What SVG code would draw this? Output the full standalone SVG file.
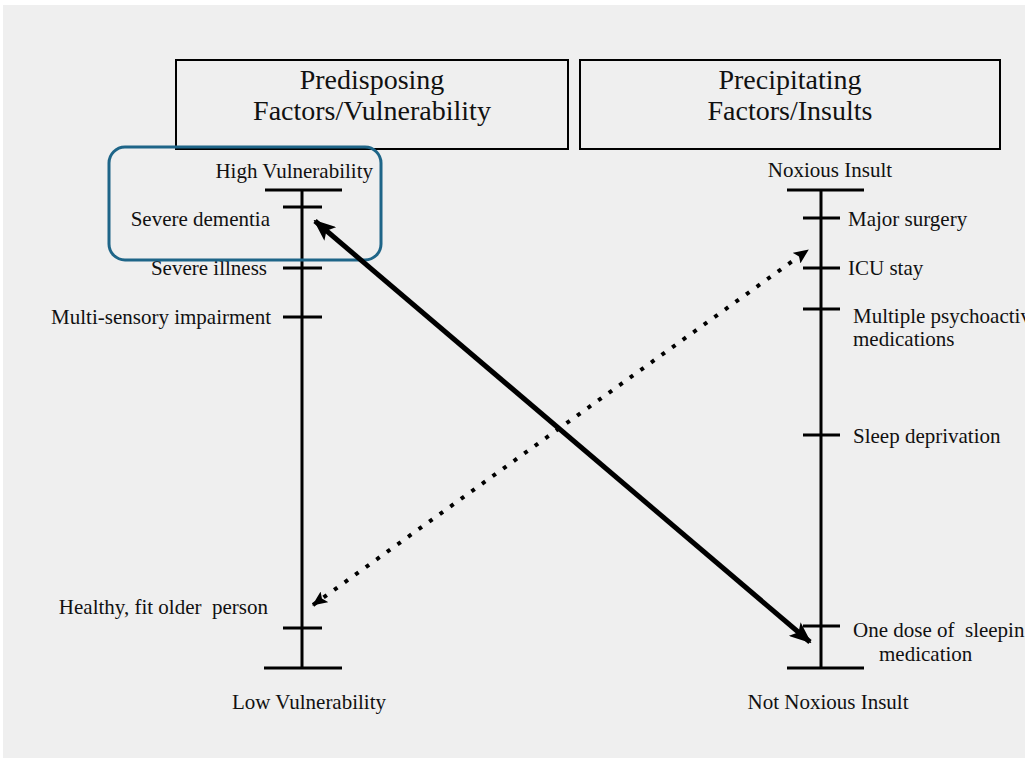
<svg xmlns="http://www.w3.org/2000/svg" width="1025" height="765" viewBox="0 0 1025 765">
<defs>
<style>
.t{font-family:'Liberation Serif','Times New Roman',Tinos,'Nimbus Roman','DejaVu Serif',serif;font-size:21px;fill:#111}
.h{font-family:'Liberation Serif','Times New Roman',Tinos,'Nimbus Roman','DejaVu Serif',serif;font-size:28px;fill:#111;text-anchor:middle}
.ax{stroke:#000;stroke-width:3;fill:none}
.box{fill:none;stroke:#000;stroke-width:2}
</style>
<marker id="ah" markerUnits="userSpaceOnUse" markerWidth="22" markerHeight="18" refX="20" refY="9" orient="auto-start-reverse" viewBox="0 0 22 18">
<path d="M0,0 L22,9 L0,18 L5,9 Z" fill="#000"/>
</marker>
<marker id="ad" markerUnits="userSpaceOnUse" markerWidth="15" markerHeight="13" refX="14" refY="6.5" orient="auto-start-reverse" viewBox="0 0 15 13">
<path d="M0,0 L15,6.5 L0,13 L3,6.5 Z" fill="#000"/>
</marker>
</defs>
<rect x="0" y="0" width="1025" height="765" fill="#fff"/>
<rect x="3" y="5" width="1022" height="753" fill="#efefef"/>

<g id="header-predisposing">
<rect class="box" x="176" y="60" width="392" height="89"/>
<text class="h" x="372" y="89">Predisposing</text>
<text class="h" x="372" y="120">Factors/Vulnerability</text>
</g>
<g id="header-precipitating">
<rect class="box" x="580" y="60" width="420" height="89"/>
<text class="h" x="790" y="89">Precipitating</text>
<text class="h" x="790" y="120">Factors/Insults</text>
</g>

<g id="vulnerability-axis">
<path class="ax" d="M302,190 V668 M265,190 H342 M264,668 H342 M283,207 H322 M283,268 H322 M283,317 H322 M283,628 H322"/>
<text class="t" x="373" y="178" text-anchor="end">High Vulnerability</text>
<text class="t" x="270" y="226" text-anchor="end">Severe dementia</text>
<text class="t" x="267" y="275" text-anchor="end">Severe illness</text>
<text class="t" x="271" y="324" text-anchor="end">Multi-sensory impairment</text>
<text class="t" x="268" y="614" text-anchor="end" xml:space="preserve">Healthy, fit older  person</text>
<text class="t" x="309" y="709" text-anchor="middle">Low Vulnerability</text>
</g>

<g id="insult-axis">
<path class="ax" d="M821,190 V668 M787,190 H864 M787,668 H864 M803,218 H840 M803,268 H840 M803,309 H840 M803,435 H840 M803,626 H840"/>
<text class="t" x="830" y="177" text-anchor="middle">Noxious Insult</text>
<text class="t" x="848" y="226">Major surgery</text>
<text class="t" x="848" y="275">ICU stay</text>
<text class="t" x="853" y="323">Multiple psychoactive</text>
<text class="t" x="853" y="346">medications</text>
<text class="t" x="853" y="443">Sleep deprivation</text>
<text class="t" x="853" y="637" xml:space="preserve">One dose of  sleeping</text>
<text class="t" x="879" y="661">medication</text>
<text class="t" x="828" y="709" text-anchor="middle">Not Noxious Insult</text>
</g>

<g id="highlight">
<rect x="109" y="147" width="272" height="113" rx="16" fill="none" stroke="#1e6588" stroke-width="3"/>
</g>

<g id="connectors">
<line x1="315" y1="221" x2="810" y2="642" stroke="#000" stroke-width="5" marker-start="url(#ah)" marker-end="url(#ah)"/>
<line x1="313" y1="605" x2="808" y2="250" stroke="#000" stroke-width="4" stroke-dasharray="4,9" marker-start="url(#ad)" marker-end="url(#ad)"/>
</g>
</svg>
